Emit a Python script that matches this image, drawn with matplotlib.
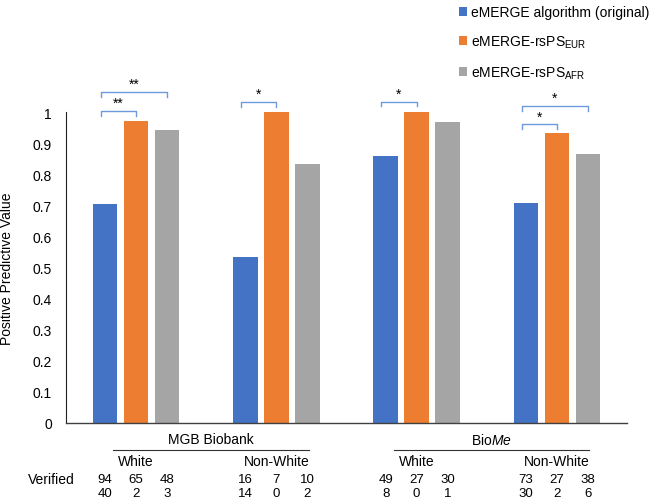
import matplotlib
matplotlib.use("Agg")
import matplotlib.pyplot as plt
from matplotlib.patches import Patch
import numpy as np

plt.rcParams['font.family'] = ['Liberation Sans', 'DejaVu Sans']
plt.rcParams['mathtext.fontset'] = 'custom'
plt.rcParams['mathtext.rm'] = 'Liberation Sans'
plt.rcParams['mathtext.it'] = 'Liberation Sans:italic'
plt.rcParams['font.size'] = 10

# data
groups = ["White", "Non-White", "White", "Non-White"]
datasets = ["MGB Biobank", r"Bio$\mathit{Me}$"]
series = ["eMERGE algorithm (original)",
          r"eMERGE-rsPS$_{\mathrm{EUR}}$",
          r"eMERGE-rsPS$_{\mathrm{AFR}}$"]
ppv_orig = [0.703, 0.533, 0.860, 0.709]
ppv_eur = [0.970, 1.000, 1.000, 0.932]
ppv_afr = [0.941, 0.833, 0.968, 0.864]
verified_yes = [[94, 65, 48], [16, 7, 10], [49, 27, 30], [73, 27, 38]]
verified_no = [[40, 2, 3], [14, 0, 2], [8, 0, 1], [30, 2, 6]]
colors = ["#4472C4", "#ED7D31", "#A5A5A5"]

# significance brackets: (group, from series, to series, height, label)
sig = [(0, 0, 1, 1.004, "**"), (0, 0, 2, 1.065, "**"),
       (1, 0, 1, 1.033, "*"), (2, 0, 1, 1.034, "*"),
       (3, 0, 1, 0.962, "*"), (3, 0, 2, 1.021, "*")]

W, H = 652, 502
fig = plt.figure(figsize=(W / 100, H / 100), dpi=100)
ax = fig.add_axes([66 / W, (H - 424) / H, 561 / W, 342 / H])

x = np.arange(len(groups))
pitch = 0.2214
width = 0.175
vals = [ppv_orig, ppv_eur, ppv_afr]
for i, v in enumerate(vals):
    ax.bar(x + (i - 1) * pitch, v, width=width, color=colors[i], zorder=2)

ax.set_xlim(-0.5, 3.5)
ax.set_ylim(0, 1.1)
ax.set_yticks(np.arange(0, 1.01, 0.1))
ax.set_yticklabels(["0"] + [f"{t:.1f}" for t in np.arange(0.1, 0.95, 0.1)] + ["1"])
ax.set_xticks([])
ax.tick_params(axis='y', length=0, pad=10, labelsize=10)
for s in ["top", "right"]:
    ax.spines[s].set_visible(False)
ax.spines["left"].set_bounds(0, 1)
ax.spines["left"].set_color("#222222")
ax.spines["bottom"].set_color("#404040")
ax.spines["bottom"].set_linewidth(1.0)
ax.spines["left"].set_linewidth(0.8)

ax.set_ylabel("Positive Predictive Value", fontsize=10)
ax.yaxis.set_label_coords(-0.093, 0.5 / 1.1)

# brackets
tick = 0.016
for g, a, b, h, lab in sig:
    xa = g + (a - 1) * pitch - 0.03
    xb = g + (b - 1) * pitch
    ax.plot([xa, xa, xb, xb], [h - tick, h, h, h - tick],
            color="#6E99DD", lw=1.0, clip_on=False, zorder=3)
    ax.text((xa + xb) / 2, h + 0.002, lab, ha="center", va="bottom",
            fontsize=10, clip_on=False)

# labels under the axis
tr = ax.get_xaxis_transform()
for d, name in enumerate(datasets):
    g0, g1 = 2 * d, 2 * d + 1
    ax.plot([g0 - 0.164, g1 + 0.23], [-0.079, -0.079], color="#333333",
            lw=0.8, transform=tr, clip_on=False)
    ax.text((g0 + g1) / 2 + 0.03, -0.047, name, transform=tr,
            ha="center", va="center", fontsize=10)
for g, name in enumerate(groups):
    ax.text(g, -0.111, name, transform=tr, ha="center", va="center", fontsize=10)
    for i in range(3):
        xi = g + (i - 1) * pitch
        ax.text(xi, -0.164, str(verified_yes[g][i]), transform=tr,
                ha="center", va="center", fontsize=9.5)
        ax.text(xi, -0.206, str(verified_no[g][i]), transform=tr,
                ha="center", va="center", fontsize=9.5)
fig.text(28 / W, 1 - 480 / H, "Verified", ha="left", va="center", fontsize=10)

handles = [Patch(facecolor=c, edgecolor="none") for c in colors]
ax.legend(handles, series, loc="upper left",
          bbox_to_anchor=(459 / W, 1 - 6 / H), bbox_transform=fig.transFigure,
          frameon=False, fontsize=10, handlelength=0.6, handleheight=0.6,
          handletextpad=0.25, labelspacing=1.05, borderaxespad=0, borderpad=0)

fig.savefig("out.png", dpi=100)
